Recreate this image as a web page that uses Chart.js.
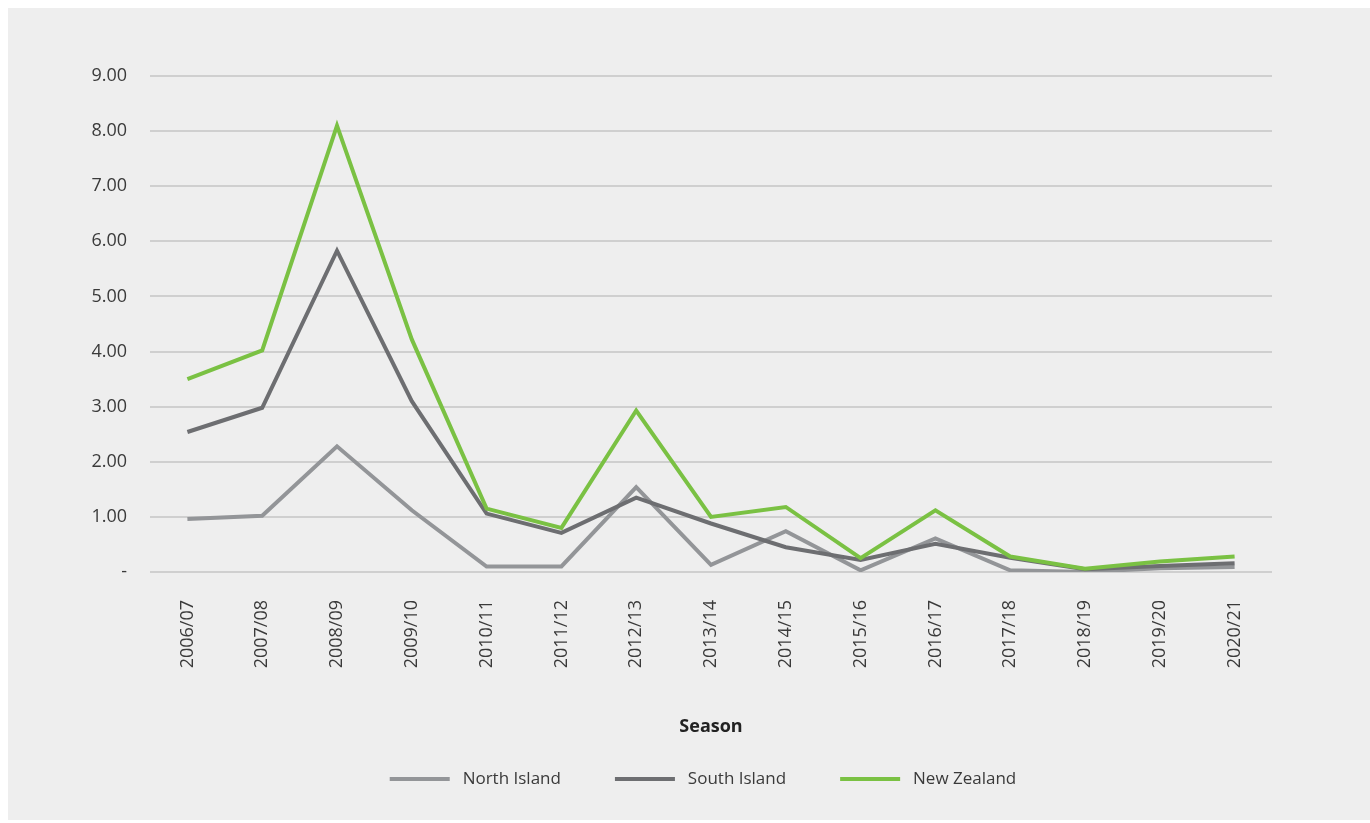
<!DOCTYPE html>
<html>
<head>
<meta charset="utf-8">
<script src="https://cdn.jsdelivr.net/npm/chart.js@4.4.0/dist/chart.umd.min.js"></script>
<style>
	body { margin: 0; background: #ffffff; }
	#panel { position: absolute; left: 8px; top: 8px; width: 1362px; height: 812px; background: #eeeeee; }
</style>
</head>
<body>
<div id="panel"><canvas id="chart"></canvas></div>
<script>
//season labels
var seasons = [ "2006/07", "2007/08", "2008/09", "2009/10", "2010/11", "2011/12", "2012/13", "2013/14",
	"2014/15", "2015/16", "2016/17", "2017/18", "2018/19", "2019/20", "2020/21" ];

//series values
var northIsland = [ 0.96, 1.02, 2.28, 1.12, 0.10, 0.10, 1.54, 0.13, 0.74, 0.03, 0.61, 0.03, 0.00, 0.07, 0.09 ];
var southIsland = [ 2.54, 2.98, 5.83, 3.10, 1.06, 0.71, 1.35, 0.88, 0.45, 0.22, 0.51, 0.26, 0.05, 0.11, 0.16 ];
var newZealand  = [ 3.50, 4.02, 8.10, 4.22, 1.15, 0.80, 2.93, 1.00, 1.18, 0.25, 1.12, 0.28, 0.06, 0.19, 0.28 ];

//y axis ticks
var yTicks = [ 0, 1, 2, 3, 4, 5, 6, 7, 8, 9 ];

var font = "'Open Sans', 'Noto Sans', sans-serif";
var textColor = "#3a3a3a";

//legend sits centred under the plot, not under the whole canvas
var legendShift = {
	id: "legendShift",
	afterLayout: function(chart){
		chart.legend.left += 63;
		chart.legend.right += 63;
	}
};

var ctx = document.getElementById("chart").getContext('2d');

var lineChart = new Chart( ctx, {
	type: 'line',
	data: {
		labels: seasons,
		datasets: [{
			label: "North Island",
			data: northIsland,
			borderColor: "#939598",
			backgroundColor: "#939598",
			order: 3
		},{
			label: "South Island",
			data: southIsland,
			borderColor: "#6d6e71",
			backgroundColor: "#6d6e71",
			order: 2
		},{
			label: "New Zealand",
			data: newZealand,
			borderColor: "#7ac143",
			backgroundColor: "#7ac143",
			order: 1
		}]
	},
	plugins: [ legendShift ],
	options: {
		responsive: true,
		maintainAspectRatio: false,
		animation: false,
		elements: {
			line: { borderWidth: 4, tension: 0, borderJoinStyle: 'miter' },
			point: { radius: 0, hoverRadius: 0 }
		},
		layout: { padding: { top: 68, right: 98, bottom: 22.5, left: 0 } },
		plugins: {
			tooltip: { enabled: false },
			legend: {
				position: "bottom",
				labels: {
					font: { family: font, size: 17 },
					color: textColor,
					boxWidth: 60,
					boxHeight: 4,
					padding: 54,
					sort: function(a, b){ return a.datasetIndex - b.datasetIndex; },
					generateLabels: function(chart){
						var items = Chart.defaults.plugins.legend.labels.generateLabels(chart);
						items.forEach(function(it){
							it.fillStyle = it.strokeStyle;
							it.lineWidth = 0;
							it.text = " " + it.text;
						});
						return items;
					}
				}
			}
		},
		scales: {
			x: {
				offset: true,
				grid: { display: false },
				border: { display: false },
				ticks: {
					autoSkip: false,
					minRotation: 90,
					maxRotation: 90,
					padding: 20,
					color: textColor,
					font: { family: font, size: 18 }
				},
				title: {
					display: true,
					text: "Season",
					color: "#222222",
					font: { family: font, size: 18, weight: "bold" },
					padding: { top: 0, bottom: -21.3 }
				},
				afterFit: function(scale){ scale.height = 144.5; }
			},
			y: {
				min: 0,
				max: 9,
				afterBuildTicks: function(scale){
					scale.ticks = yTicks.map(function(v){ return { value: v }; });
				},
				grid: { color: "#cfcfcf", lineWidth: 2, drawTicks: false },
				border: { display: false },
				ticks: {
					padding: 23,
					color: textColor,
					font: { family: font, size: 18 },
					callback: function(value){ return value === 0 ? "-" : value.toFixed(2); }
				},
				afterFit: function(scale){ scale.width = 142; }
			}
		}
	}
});
</script>
</body>
</html>
